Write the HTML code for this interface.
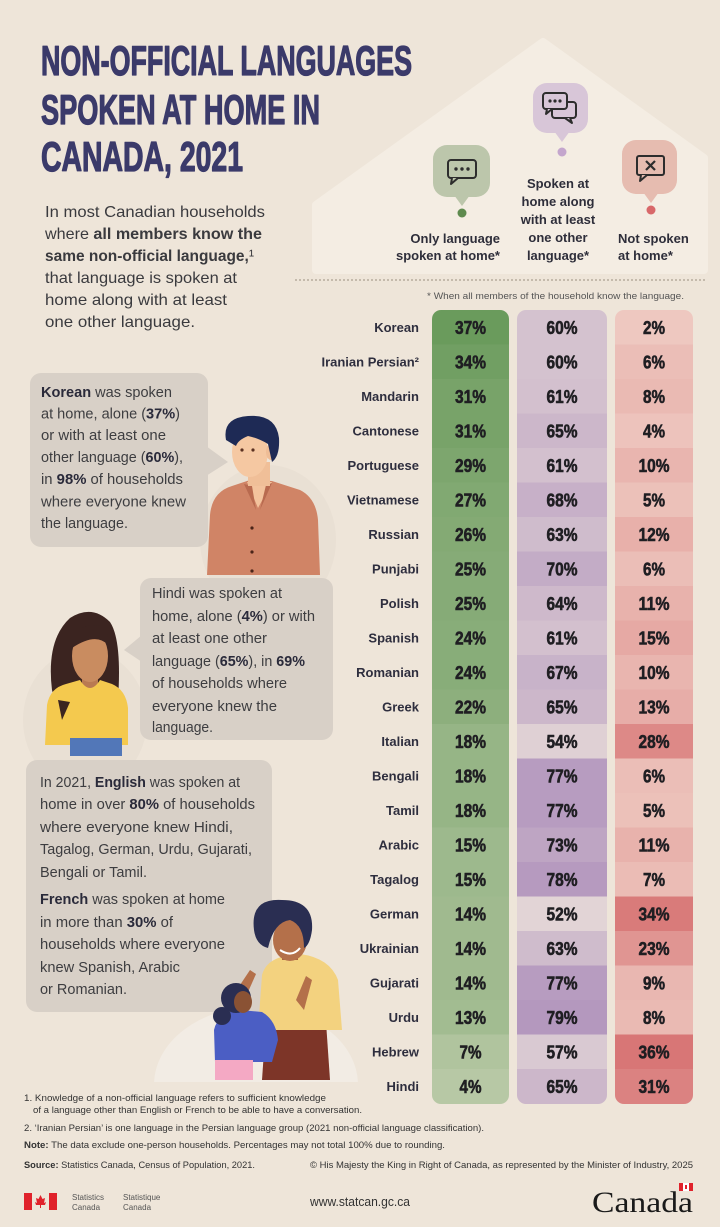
<!DOCTYPE html>
<html><head><meta charset="utf-8"><style>
html,body{margin:0;padding:0;background:#eee5d9;}
svg{display:block;}
</style></head><body>
<svg width="720" height="1227" viewBox="0 0 720 1227" xmlns="http://www.w3.org/2000/svg" font-family="'Liberation Sans', sans-serif">
<defs>
<clipPath id="cg"><rect x="432" y="310" width="77" height="794" rx="9"/></clipPath>
<clipPath id="cp"><rect x="517" y="310" width="90" height="794" rx="9"/></clipPath>
<clipPath id="cr"><rect x="615" y="310" width="78" height="794" rx="9"/></clipPath>
<clipPath id="cb"><rect x="0" y="0" width="720" height="1082"/></clipPath>
</defs>
<rect width="720" height="1227" fill="#eee5d9"/>
<!-- house -->
<polygon points="316,270 316,205 543,42 704,158 704,270" fill="#f4ede3" stroke="#f4ede3" stroke-width="8" stroke-linejoin="round"/>

<!-- Title -->
<g fill="#3b3a6a" stroke="#3b3a6a" stroke-width="1.3" stroke-linejoin="round" font-weight="bold" font-size="42">
<text x="41" y="75" textLength="371" lengthAdjust="spacingAndGlyphs">NON-OFFICIAL LANGUAGES</text>
<text x="41" y="124" textLength="279" lengthAdjust="spacingAndGlyphs">SPOKEN AT HOME IN</text>
<text x="41" y="171" textLength="202" lengthAdjust="spacingAndGlyphs">CANADA, 2021</text>
</g>

<!-- Intro -->
<g fill="#3a3a3e" font-size="16">
<text x="45" y="217" textLength="220" lengthAdjust="spacingAndGlyphs">In most Canadian households</text>
<text x="45" y="239" textLength="217" lengthAdjust="spacingAndGlyphs">where <tspan font-weight="bold">all members know the</tspan></text>
<text x="45" y="261" textLength="209" lengthAdjust="spacingAndGlyphs"><tspan font-weight="bold">same non-official language,</tspan>¹</text>
<text x="45" y="283" textLength="192" lengthAdjust="spacingAndGlyphs">that language is spoken at</text>
<text x="45" y="305" textLength="182" lengthAdjust="spacingAndGlyphs">home along with at least</text>
<text x="45" y="327" textLength="150" lengthAdjust="spacingAndGlyphs">one other language.</text>
</g>

<!-- Header icons -->
<g>
<rect x="433" y="145" width="57" height="52" rx="14" fill="#bcc6ab"/>
<polygon points="454,195 470,195 462,206" fill="#bcc6ab"/>
<circle cx="462" cy="213" r="4.5" fill="#5e8a4e"/>
<rect x="448" y="160" width="28" height="18" rx="3" fill="none" stroke="#2d2d2d" stroke-width="2"/>
<polyline points="452,178 451,184 458,178" fill="#bcc6ab" stroke="#2d2d2d" stroke-width="2" stroke-linejoin="round"/>
<circle cx="456" cy="169" r="1.7" fill="#2d2d2d"/><circle cx="462" cy="169" r="1.7" fill="#2d2d2d"/><circle cx="468" cy="169" r="1.7" fill="#2d2d2d"/>

<rect x="533" y="83" width="55" height="50" rx="14" fill="#d8c6d8"/>
<polygon points="554,131 570,131 562,142" fill="#d8c6d8"/>
<circle cx="562" cy="152" r="4.5" fill="#c4a6cd"/>
<rect x="552" y="102" width="24" height="16" rx="3" fill="#d8c6d8" stroke="#2d2d2d" stroke-width="2"/>
<polyline points="570,118 572,123 565,118" fill="#d8c6d8" stroke="#2d2d2d" stroke-width="2" stroke-linejoin="round"/>
<rect x="543" y="93" width="24" height="16" rx="3" fill="#d8c6d8" stroke="#2d2d2d" stroke-width="2"/>
<polyline points="547,109 546,114 552,109" fill="#d8c6d8" stroke="#2d2d2d" stroke-width="2" stroke-linejoin="round"/>
<circle cx="550" cy="101" r="1.6" fill="#2d2d2d"/><circle cx="555" cy="101" r="1.6" fill="#2d2d2d"/><circle cx="560" cy="101" r="1.6" fill="#2d2d2d"/>

<rect x="622" y="140" width="55" height="54" rx="14" fill="#e6bcb0"/>
<polygon points="643,192 659,192 651,203" fill="#e6bcb0"/>
<circle cx="651" cy="210" r="4.5" fill="#d8686a"/>
<rect x="637" y="156" width="27" height="19" rx="2" fill="none" stroke="#2d2d2d" stroke-width="2"/>
<polyline points="641,175 640,181 647,175" fill="#e6bcb0" stroke="#2d2d2d" stroke-width="2" stroke-linejoin="round"/>
<line x1="646" y1="161" x2="655" y2="170" stroke="#2d2d2d" stroke-width="2.2"/>
<line x1="655" y1="161" x2="646" y2="170" stroke="#2d2d2d" stroke-width="2.2"/>
</g>

<!-- Header labels -->
<g fill="#2e2e3a" font-weight="bold" font-size="13">
<text x="500" y="243" text-anchor="end">Only language</text>
<text x="500" y="260" text-anchor="end">spoken at home*</text>
<text x="558" y="188" text-anchor="middle">Spoken at</text>
<text x="558" y="206" text-anchor="middle">home along</text>
<text x="558" y="224" text-anchor="middle">with at least</text>
<text x="558" y="242" text-anchor="middle">one other</text>
<text x="558" y="260" text-anchor="middle">language*</text>
<text x="618" y="243">Not spoken</text>
<text x="618" y="260">at home*</text>
</g>
<line x1="295" y1="280" x2="707" y2="280" stroke="#9a9080" stroke-width="1" stroke-dasharray="2,2"/>
<text x="427" y="299" font-size="9" fill="#555" textLength="257" lengthAdjust="spacingAndGlyphs">* When all members of the household know the language.</text>

<!-- Table columns -->
<g clip-path="url(#cg)">
<rect x="432" y="310" width="77" height="35" fill="#6a9b5c"/>
<rect x="432" y="344.5" width="77" height="35" fill="#719f63"/>
<rect x="432" y="379" width="77" height="35" fill="#78a369"/>
<rect x="432" y="413.5" width="77" height="35" fill="#78a369"/>
<rect x="432" y="448" width="77" height="35" fill="#7da66e"/>
<rect x="432" y="482.5" width="77" height="35" fill="#81a972"/>
<rect x="432" y="517" width="77" height="35" fill="#84aa74"/>
<rect x="432" y="551.5" width="77" height="35" fill="#86ab77"/>
<rect x="432" y="586" width="77" height="35" fill="#86ab77"/>
<rect x="432" y="620.5" width="77" height="35" fill="#88ad79"/>
<rect x="432" y="655" width="77" height="35" fill="#88ad79"/>
<rect x="432" y="689.5" width="77" height="35" fill="#8daf7d"/>
<rect x="432" y="724" width="77" height="35" fill="#96b586"/>
<rect x="432" y="758.5" width="77" height="35" fill="#96b586"/>
<rect x="432" y="793" width="77" height="35" fill="#96b586"/>
<rect x="432" y="827.5" width="77" height="35" fill="#9db98d"/>
<rect x="432" y="862" width="77" height="35" fill="#9db98d"/>
<rect x="432" y="896.5" width="77" height="35" fill="#a0ba8f"/>
<rect x="432" y="931" width="77" height="35" fill="#a0ba8f"/>
<rect x="432" y="965.5" width="77" height="35" fill="#a0ba8f"/>
<rect x="432" y="1000" width="77" height="35" fill="#a2bc91"/>
<rect x="432" y="1034.5" width="77" height="35" fill="#b0c49e"/>
<rect x="432" y="1069" width="77" height="35" fill="#b7c8a5"/>
</g>
<g clip-path="url(#cp)">
<rect x="517" y="310" width="90" height="35" fill="#d4c2cf"/>
<rect x="517" y="344.5" width="90" height="35" fill="#d4c2cf"/>
<rect x="517" y="379" width="90" height="35" fill="#d3c0ce"/>
<rect x="517" y="413.5" width="90" height="35" fill="#ccb7ca"/>
<rect x="517" y="448" width="90" height="35" fill="#d3c0ce"/>
<rect x="517" y="482.5" width="90" height="35" fill="#c7b0c8"/>
<rect x="517" y="517" width="90" height="35" fill="#cfbccc"/>
<rect x="517" y="551.5" width="90" height="35" fill="#c3acc6"/>
<rect x="517" y="586" width="90" height="35" fill="#ceb9cb"/>
<rect x="517" y="620.5" width="90" height="35" fill="#d3c0ce"/>
<rect x="517" y="655" width="90" height="35" fill="#c8b3c9"/>
<rect x="517" y="689.5" width="90" height="35" fill="#ccb7ca"/>
<rect x="517" y="724" width="90" height="35" fill="#dfd0d4"/>
<rect x="517" y="758.5" width="90" height="35" fill="#b79cc0"/>
<rect x="517" y="793" width="90" height="35" fill="#b79cc0"/>
<rect x="517" y="827.5" width="90" height="35" fill="#bea5c3"/>
<rect x="517" y="862" width="90" height="35" fill="#b69abf"/>
<rect x="517" y="896.5" width="90" height="35" fill="#e2d4d6"/>
<rect x="517" y="931" width="90" height="35" fill="#cfbccc"/>
<rect x="517" y="965.5" width="90" height="35" fill="#b79cc0"/>
<rect x="517" y="1000" width="90" height="35" fill="#b498be"/>
<rect x="517" y="1034.5" width="90" height="35" fill="#d9c9d2"/>
<rect x="517" y="1069" width="90" height="35" fill="#ccb7ca"/>
</g>
<g clip-path="url(#cr)">
<rect x="615" y="310" width="78" height="35" fill="#eec8c0"/>
<rect x="615" y="344.5" width="78" height="35" fill="#ebbeb7"/>
<rect x="615" y="379" width="78" height="35" fill="#eabab3"/>
<rect x="615" y="413.5" width="78" height="35" fill="#edc3bc"/>
<rect x="615" y="448" width="78" height="35" fill="#e9b5af"/>
<rect x="615" y="482.5" width="78" height="35" fill="#ecc1b9"/>
<rect x="615" y="517" width="78" height="35" fill="#e8b0aa"/>
<rect x="615" y="551.5" width="78" height="35" fill="#ebbeb7"/>
<rect x="615" y="586" width="78" height="35" fill="#e8b2ac"/>
<rect x="615" y="620.5" width="78" height="35" fill="#e6a9a4"/>
<rect x="615" y="655" width="78" height="35" fill="#e9b5af"/>
<rect x="615" y="689.5" width="78" height="35" fill="#e7ada8"/>
<rect x="615" y="724" width="78" height="35" fill="#dd8987"/>
<rect x="615" y="758.5" width="78" height="35" fill="#ebbeb7"/>
<rect x="615" y="793" width="78" height="35" fill="#ecc1b9"/>
<rect x="615" y="827.5" width="78" height="35" fill="#e8b2ac"/>
<rect x="615" y="862" width="78" height="35" fill="#ebbcb5"/>
<rect x="615" y="896.5" width="78" height="35" fill="#d97b7a"/>
<rect x="615" y="931" width="78" height="35" fill="#e09592"/>
<rect x="615" y="965.5" width="78" height="35" fill="#e9b7b1"/>
<rect x="615" y="1000" width="78" height="35" fill="#eabab3"/>
<rect x="615" y="1034.5" width="78" height="35" fill="#d87676"/>
<rect x="615" y="1069" width="78" height="35" fill="#db8281"/>
</g>

<!-- Row labels -->
<g fill="#2e2e3e" font-weight="bold" font-size="13" text-anchor="end">
<text x="419" y="332">Korean</text>
<text x="419" y="366.5">Iranian Persian²</text>
<text x="419" y="401">Mandarin</text>
<text x="419" y="435.5">Cantonese</text>
<text x="419" y="470">Portuguese</text>
<text x="419" y="504.5">Vietnamese</text>
<text x="419" y="539">Russian</text>
<text x="419" y="573.5">Punjabi</text>
<text x="419" y="608">Polish</text>
<text x="419" y="642.5">Spanish</text>
<text x="419" y="677">Romanian</text>
<text x="419" y="711.5">Greek</text>
<text x="419" y="746">Italian</text>
<text x="419" y="780.5">Bengali</text>
<text x="419" y="815">Tamil</text>
<text x="419" y="849.5">Arabic</text>
<text x="419" y="884">Tagalog</text>
<text x="419" y="918.5">German</text>
<text x="419" y="953">Ukrainian</text>
<text x="419" y="987.5">Gujarati</text>
<text x="419" y="1022">Urdu</text>
<text x="419" y="1056.5">Hebrew</text>
<text x="419" y="1091">Hindi</text>
</g>

<!-- Values -->
<g fill="#1f1e22" stroke="#1f1e22" stroke-width="0.6" stroke-linejoin="round" font-weight="bold" font-size="18" text-anchor="middle">
<text x="470.5" y="333.8" textLength="31" lengthAdjust="spacingAndGlyphs">37%</text><text x="562" y="333.8" textLength="31" lengthAdjust="spacingAndGlyphs">60%</text><text x="654" y="333.8" textLength="22" lengthAdjust="spacingAndGlyphs">2%</text>
<text x="470.5" y="368.3" textLength="31" lengthAdjust="spacingAndGlyphs">34%</text><text x="562" y="368.3" textLength="31" lengthAdjust="spacingAndGlyphs">60%</text><text x="654" y="368.3" textLength="22" lengthAdjust="spacingAndGlyphs">6%</text>
<text x="470.5" y="402.8" textLength="31" lengthAdjust="spacingAndGlyphs">31%</text><text x="562" y="402.8" textLength="31" lengthAdjust="spacingAndGlyphs">61%</text><text x="654" y="402.8" textLength="22" lengthAdjust="spacingAndGlyphs">8%</text>
<text x="470.5" y="437.3" textLength="31" lengthAdjust="spacingAndGlyphs">31%</text><text x="562" y="437.3" textLength="31" lengthAdjust="spacingAndGlyphs">65%</text><text x="654" y="437.3" textLength="22" lengthAdjust="spacingAndGlyphs">4%</text>
<text x="470.5" y="471.8" textLength="31" lengthAdjust="spacingAndGlyphs">29%</text><text x="562" y="471.8" textLength="31" lengthAdjust="spacingAndGlyphs">61%</text><text x="654" y="471.8" textLength="31" lengthAdjust="spacingAndGlyphs">10%</text>
<text x="470.5" y="506.3" textLength="31" lengthAdjust="spacingAndGlyphs">27%</text><text x="562" y="506.3" textLength="31" lengthAdjust="spacingAndGlyphs">68%</text><text x="654" y="506.3" textLength="22" lengthAdjust="spacingAndGlyphs">5%</text>
<text x="470.5" y="540.8" textLength="31" lengthAdjust="spacingAndGlyphs">26%</text><text x="562" y="540.8" textLength="31" lengthAdjust="spacingAndGlyphs">63%</text><text x="654" y="540.8" textLength="31" lengthAdjust="spacingAndGlyphs">12%</text>
<text x="470.5" y="575.3" textLength="31" lengthAdjust="spacingAndGlyphs">25%</text><text x="562" y="575.3" textLength="31" lengthAdjust="spacingAndGlyphs">70%</text><text x="654" y="575.3" textLength="22" lengthAdjust="spacingAndGlyphs">6%</text>
<text x="470.5" y="609.8" textLength="31" lengthAdjust="spacingAndGlyphs">25%</text><text x="562" y="609.8" textLength="31" lengthAdjust="spacingAndGlyphs">64%</text><text x="654" y="609.8" textLength="31" lengthAdjust="spacingAndGlyphs">11%</text>
<text x="470.5" y="644.3" textLength="31" lengthAdjust="spacingAndGlyphs">24%</text><text x="562" y="644.3" textLength="31" lengthAdjust="spacingAndGlyphs">61%</text><text x="654" y="644.3" textLength="31" lengthAdjust="spacingAndGlyphs">15%</text>
<text x="470.5" y="678.8" textLength="31" lengthAdjust="spacingAndGlyphs">24%</text><text x="562" y="678.8" textLength="31" lengthAdjust="spacingAndGlyphs">67%</text><text x="654" y="678.8" textLength="31" lengthAdjust="spacingAndGlyphs">10%</text>
<text x="470.5" y="713.3" textLength="31" lengthAdjust="spacingAndGlyphs">22%</text><text x="562" y="713.3" textLength="31" lengthAdjust="spacingAndGlyphs">65%</text><text x="654" y="713.3" textLength="31" lengthAdjust="spacingAndGlyphs">13%</text>
<text x="470.5" y="747.8" textLength="31" lengthAdjust="spacingAndGlyphs">18%</text><text x="562" y="747.8" textLength="31" lengthAdjust="spacingAndGlyphs">54%</text><text x="654" y="747.8" textLength="31" lengthAdjust="spacingAndGlyphs">28%</text>
<text x="470.5" y="782.3" textLength="31" lengthAdjust="spacingAndGlyphs">18%</text><text x="562" y="782.3" textLength="31" lengthAdjust="spacingAndGlyphs">77%</text><text x="654" y="782.3" textLength="22" lengthAdjust="spacingAndGlyphs">6%</text>
<text x="470.5" y="816.8" textLength="31" lengthAdjust="spacingAndGlyphs">18%</text><text x="562" y="816.8" textLength="31" lengthAdjust="spacingAndGlyphs">77%</text><text x="654" y="816.8" textLength="22" lengthAdjust="spacingAndGlyphs">5%</text>
<text x="470.5" y="851.3" textLength="31" lengthAdjust="spacingAndGlyphs">15%</text><text x="562" y="851.3" textLength="31" lengthAdjust="spacingAndGlyphs">73%</text><text x="654" y="851.3" textLength="31" lengthAdjust="spacingAndGlyphs">11%</text>
<text x="470.5" y="885.8" textLength="31" lengthAdjust="spacingAndGlyphs">15%</text><text x="562" y="885.8" textLength="31" lengthAdjust="spacingAndGlyphs">78%</text><text x="654" y="885.8" textLength="22" lengthAdjust="spacingAndGlyphs">7%</text>
<text x="470.5" y="920.3" textLength="31" lengthAdjust="spacingAndGlyphs">14%</text><text x="562" y="920.3" textLength="31" lengthAdjust="spacingAndGlyphs">52%</text><text x="654" y="920.3" textLength="31" lengthAdjust="spacingAndGlyphs">34%</text>
<text x="470.5" y="954.8" textLength="31" lengthAdjust="spacingAndGlyphs">14%</text><text x="562" y="954.8" textLength="31" lengthAdjust="spacingAndGlyphs">63%</text><text x="654" y="954.8" textLength="31" lengthAdjust="spacingAndGlyphs">23%</text>
<text x="470.5" y="989.3" textLength="31" lengthAdjust="spacingAndGlyphs">14%</text><text x="562" y="989.3" textLength="31" lengthAdjust="spacingAndGlyphs">77%</text><text x="654" y="989.3" textLength="22" lengthAdjust="spacingAndGlyphs">9%</text>
<text x="470.5" y="1023.8" textLength="31" lengthAdjust="spacingAndGlyphs">13%</text><text x="562" y="1023.8" textLength="31" lengthAdjust="spacingAndGlyphs">79%</text><text x="654" y="1023.8" textLength="22" lengthAdjust="spacingAndGlyphs">8%</text>
<text x="470.5" y="1058.3" textLength="22" lengthAdjust="spacingAndGlyphs">7%</text><text x="562" y="1058.3" textLength="31" lengthAdjust="spacingAndGlyphs">57%</text><text x="654" y="1058.3" textLength="31" lengthAdjust="spacingAndGlyphs">36%</text>
<text x="470.5" y="1092.8" textLength="22" lengthAdjust="spacingAndGlyphs">4%</text><text x="562" y="1092.8" textLength="31" lengthAdjust="spacingAndGlyphs">65%</text><text x="654" y="1092.8" textLength="31" lengthAdjust="spacingAndGlyphs">31%</text>
</g>

<!-- Light discs behind figures -->
<ellipse cx="268" cy="540" rx="68" ry="75" fill="#e9e0d4"/>
<ellipse cx="85" cy="720" rx="62" ry="70" fill="#e9e0d4"/>
<g clip-path="url(#cb)"><ellipse cx="256" cy="1085" rx="102" ry="78" fill="#f2ece4"/></g>

<!-- Korean bubble -->
<rect x="30" y="373" width="178" height="174" rx="11" fill="#d8d0c7"/>
<polygon points="206,446 228,462 206,476" fill="#d8d0c7"/>
<g fill="#3d3d40" font-size="14.5">
<text x="41" y="397" textLength="131" lengthAdjust="spacingAndGlyphs"><tspan font-weight="bold" fill="#2a2a3a">Korean</tspan> was spoken</text>
<text x="41" y="418.5" textLength="139" lengthAdjust="spacingAndGlyphs">at home, alone (<tspan font-weight="bold" fill="#2a2a3a">37%</tspan>)</text>
<text x="41" y="440" textLength="125" lengthAdjust="spacingAndGlyphs">or with at least one</text>
<text x="41" y="462" textLength="142" lengthAdjust="spacingAndGlyphs">other language (<tspan font-weight="bold" fill="#2a2a3a">60%</tspan>),</text>
<text x="41" y="484" textLength="142" lengthAdjust="spacingAndGlyphs">in <tspan font-weight="bold" fill="#2a2a3a">98%</tspan> of households</text>
<text x="41" y="506.5" textLength="145" lengthAdjust="spacingAndGlyphs">where everyone knew</text>
<text x="41" y="528" textLength="87" lengthAdjust="spacingAndGlyphs">the language.</text>
</g>

<!-- Man -->
<g>
<path d="M207,575 L210,515 Q212,492 232,486 L250,480 L272,481 L300,490 Q316,498 318,520 L320,575 Z" fill="#d08466"/>
<path d="M247,482 L258,508 L272,482 Z" fill="#f3c39d"/>
<path d="M244,484 L256,510 L252,486 Z M272,483 L260,510 L266,485 Z" fill="#b86a4f"/>
<rect x="248" y="462" width="22" height="24" fill="#f0bf98"/>
<ellipse cx="250" cy="452" rx="18" ry="25" fill="#f5c8a2"/>
<ellipse cx="271" cy="452" rx="5" ry="8" fill="#efbd96"/>
<path d="M226,440 Q222,418 248,416 Q276,414 279,438 Q280,456 272,462 L268,444 Q258,438 248,436 Q238,440 236,446 Z" fill="#1e2a55"/>
<circle cx="242" cy="450" r="1.6" fill="#5a3020"/><circle cx="253" cy="450" r="1.6" fill="#5a3020"/>
<circle cx="252" cy="528" r="1.6" fill="#4a2418"/><circle cx="252" cy="552" r="1.6" fill="#4a2418"/><circle cx="252" cy="571" r="1.6" fill="#4a2418"/>
</g>

<!-- Hindi bubble -->
<rect x="140" y="578" width="193" height="162" rx="11" fill="#d8d0c7"/>
<polygon points="142,635 124,650 142,662" fill="#d8d0c7"/>
<g fill="#3d3d40" font-size="14.5">
<text x="152" y="598" textLength="130" lengthAdjust="spacingAndGlyphs">Hindi was spoken at</text>
<text x="152" y="621" textLength="163" lengthAdjust="spacingAndGlyphs">home, alone (<tspan font-weight="bold" fill="#2a2a3a">4%</tspan>) or with</text>
<text x="152" y="643" textLength="115" lengthAdjust="spacingAndGlyphs">at least one other</text>
<text x="152" y="666" textLength="153" lengthAdjust="spacingAndGlyphs">language (<tspan font-weight="bold" fill="#2a2a3a">65%</tspan>), in <tspan font-weight="bold" fill="#2a2a3a">69%</tspan></text>
<text x="152" y="688" textLength="135" lengthAdjust="spacingAndGlyphs">of households where</text>
<text x="152" y="711" textLength="125" lengthAdjust="spacingAndGlyphs">everyone knew the</text>
<text x="152" y="732" textLength="61" lengthAdjust="spacingAndGlyphs">language.</text>
</g>

<!-- Woman -->
<g>
<path d="M52,690 Q46,640 70,618 Q92,604 110,622 Q122,640 118,700 L110,715 L58,715 Z" fill="#3b2420"/>
<rect x="82" y="678" width="16" height="18" fill="#b97a52"/>
<ellipse cx="90" cy="656" rx="18" ry="26" fill="#c98c60"/>
<path d="M72,640 Q80,622 100,626 Q110,632 108,645 Q96,632 72,648 Z" fill="#3b2420"/>
<path d="M45,745 L47,705 Q50,688 66,684 L80,680 Q90,696 100,680 L112,684 Q126,690 128,708 L128,745 Z" fill="#f4c94e"/>
<path d="M58,700 L62,720 L70,702 Z" fill="#3b2420"/>
<rect x="70" y="736" width="52" height="20" fill="#5277b8"/>
<rect x="60" y="725" width="62" height="13" fill="#f4c94e"/>
</g>

<!-- English/French bubble -->
<rect x="26" y="760" width="246" height="252" rx="11" fill="#d8d0c7"/>
<g fill="#3d3d40" font-size="14.5">
<text x="40" y="787" textLength="200" lengthAdjust="spacingAndGlyphs">In 2021, <tspan font-weight="bold" fill="#2a2a3a">English</tspan> was spoken at</text>
<text x="40" y="809" textLength="215" lengthAdjust="spacingAndGlyphs">home in over <tspan font-weight="bold" fill="#2a2a3a">80%</tspan> of households</text>
<text x="40" y="832" textLength="193" lengthAdjust="spacingAndGlyphs">where everyone knew Hindi,</text>
<text x="40" y="854" textLength="212" lengthAdjust="spacingAndGlyphs">Tagalog, German, Urdu, Gujarati,</text>
<text x="40" y="877" textLength="107" lengthAdjust="spacingAndGlyphs">Bengali or Tamil.</text>
<text x="40" y="904" textLength="185" lengthAdjust="spacingAndGlyphs"><tspan font-weight="bold" fill="#2a2a3a">French</tspan> was spoken at home</text>
<text x="40" y="927" textLength="133" lengthAdjust="spacingAndGlyphs">in more than <tspan font-weight="bold" fill="#2a2a3a">30%</tspan> of</text>
<text x="40" y="949" textLength="185" lengthAdjust="spacingAndGlyphs">households where everyone</text>
<text x="40" y="972" textLength="140" lengthAdjust="spacingAndGlyphs">knew Spanish, Arabic</text>
<text x="40" y="994" textLength="87" lengthAdjust="spacingAndGlyphs">or Romanian.</text>
</g>

<!-- Mother & daughter -->
<g>
<path d="M262,1080 L266,1022 L326,1022 L330,1080 Z" fill="#7d3528"/>
<path d="M258,1030 L262,975 Q266,960 285,956 L300,954 Q330,958 338,980 L342,1030 Z" fill="#f3d27f"/>
<rect x="282" y="944" width="16" height="16" fill="#a8643f"/>
<ellipse cx="290" cy="940" rx="17" ry="21" fill="#b4704a"/>
<path d="M254,930 Q250,898 282,900 Q314,900 312,930 Q310,945 304,948 Q304,925 290,920 Q274,922 268,948 Q256,945 254,930 Z" fill="#2a2e52"/>
<path d="M280,950 Q292,958 300,948" stroke="#fff" stroke-width="2" fill="none"/>
<path d="M296,1000 L306,976 L312,980 L304,1010 Z" fill="#b4704a"/>
<path d="M240,985 L250,970 L256,974 L248,992 Z" fill="#b4704a"/>
<path d="M215,1062 L214,1030 Q218,1012 240,1010 L262,1012 Q276,1020 278,1040 L272,1062 Z" fill="#4b5ec4"/>
<rect x="215" y="1060" width="38" height="20" fill="#f4a9c4"/>
<circle cx="236" cy="998" r="15" fill="#2a2e52"/>
<circle cx="222" cy="1016" r="9" fill="#2a2e52"/>
<ellipse cx="243" cy="1002" rx="9" ry="11" fill="#8a5234"/>
</g>

<!-- Footnotes -->
<g fill="#333" font-size="9.5">
<text x="24" y="1101" textLength="302" lengthAdjust="spacingAndGlyphs">1. Knowledge of a non-official language refers to sufficient knowledge</text>
<text x="33" y="1113" textLength="329" lengthAdjust="spacingAndGlyphs">of a language other than English or French to be able to have a conversation.</text>
<text x="24" y="1131" textLength="460" lengthAdjust="spacingAndGlyphs">2. ‘Iranian Persian’ is one language in the Persian language group (2021 non-official language classification).</text>
<text x="24" y="1148" textLength="421" lengthAdjust="spacingAndGlyphs"><tspan font-weight="bold">Note:</tspan> The data exclude one-person households. Percentages may not total 100% due to rounding.</text>
<text x="24" y="1168" textLength="231" lengthAdjust="spacingAndGlyphs"><tspan font-weight="bold">Source:</tspan> Statistics Canada, Census of Population, 2021.</text>
<text x="310" y="1168" textLength="383" lengthAdjust="spacingAndGlyphs">© His Majesty the King in Right of Canada, as represented by the Minister of Industry, 2025</text>
</g>

<!-- Footer logos -->
<rect x="24" y="1193" width="8" height="17" fill="#e0222b"/>
<rect x="49" y="1193" width="8" height="17" fill="#e0222b"/>
<path d="M40.5,1195 L42.5,1199 L45,1198 L44,1203 L46,1202 L45,1205 L41,1205 L41,1208 L40,1208 L40,1205 L36,1205 L35,1202 L37,1203 L36,1198 L38.5,1199 Z" fill="#e0222b"/>
<g fill="#555" font-size="8">
<text x="72" y="1200">Statistics</text>
<text x="72" y="1210">Canada</text>
<text x="123" y="1200">Statistique</text>
<text x="123" y="1210">Canada</text>
</g>
<text x="310" y="1206" font-size="12.5" fill="#333" textLength="100" lengthAdjust="spacingAndGlyphs">www.statcan.gc.ca</text>
<text x="592" y="1212" font-family="'Liberation Serif', serif" font-size="30" fill="#1a1a1a" textLength="101" lengthAdjust="spacingAndGlyphs">Canada</text>
<rect x="679" y="1183" width="14" height="8" fill="#e0222b"/>
<rect x="683" y="1183" width="6" height="8" fill="#fff"/>
<rect x="685" y="1185" width="2" height="4" fill="#e0222b"/>
</svg>
</body></html>
